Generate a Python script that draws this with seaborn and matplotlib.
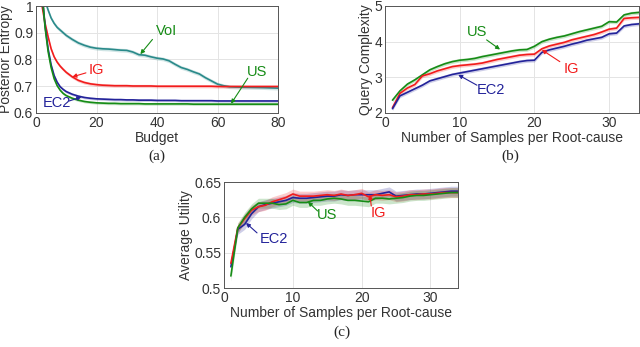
import numpy as np
import pandas as pd
import matplotlib
matplotlib.use("Agg")
import matplotlib.pyplot as plt
import seaborn as sns

# (a) posterior entropy vs budget
budget = [1, 2, 3, 4, 5, 6, 7, 8, 9, 10, 12, 14, 16, 18, 20, 22, 24, 26, 28, 30, 32, 34, 36,
          38, 40, 42, 44, 46, 48, 50, 52, 54, 56, 58, 60, 62, 64, 66, 70, 75, 80]
voi_a = [1.15, 1.08, 1.02, 0.985, 0.955, 0.935, 0.92, 0.91, 0.90, 0.89, 0.875, 0.862, 0.853,
         0.846, 0.842, 0.840, 0.839, 0.837, 0.835, 0.834, 0.828, 0.818, 0.816, 0.810, 0.805,
         0.802, 0.795, 0.782, 0.770, 0.763, 0.754, 0.746, 0.732, 0.720, 0.708, 0.702, 0.698,
         0.697, 0.696, 0.695, 0.693]
ig_a = [1.20, 1.00, 0.935, 0.885, 0.84, 0.81, 0.79, 0.775, 0.763, 0.752, 0.735, 0.722, 0.714,
        0.709, 0.706, 0.704, 0.703, 0.702, 0.702, 0.702, 0.701, 0.701, 0.701, 0.701, 0.700,
        0.700, 0.700, 0.700, 0.700, 0.700, 0.700, 0.700, 0.700, 0.700, 0.699, 0.699, 0.699,
        0.699, 0.699, 0.699, 0.699]
us_a = [1.30, 1.05, 0.92, 0.83, 0.77, 0.728, 0.702, 0.685, 0.673, 0.665, 0.655, 0.648, 0.643,
        0.640, 0.638, 0.637, 0.636, 0.636, 0.635, 0.635, 0.635, 0.635, 0.634, 0.634, 0.634,
        0.634, 0.634, 0.634, 0.634, 0.634, 0.633, 0.633, 0.633, 0.633, 0.633, 0.633, 0.633,
        0.633, 0.633, 0.633, 0.633]
ec2_a = [1.30, 1.05, 0.925, 0.84, 0.78, 0.74, 0.715, 0.698, 0.688, 0.68, 0.67, 0.663, 0.658,
         0.655, 0.653, 0.652, 0.651, 0.650, 0.650, 0.649, 0.649, 0.648, 0.648, 0.648, 0.647,
         0.647, 0.647, 0.647, 0.646, 0.646, 0.646, 0.646, 0.646, 0.646, 0.645, 0.645, 0.645,
         0.645, 0.645, 0.645, 0.645]

# (b) query complexity and (c) average utility vs samples per root-cause
samples = list(range(1, 35))
us_b = [2.36, 2.62, 2.81, 2.93, 3.07, 3.21, 3.30, 3.38, 3.44, 3.48, 3.50, 3.53, 3.58, 3.62,
        3.66, 3.70, 3.74, 3.77, 3.78, 3.87, 4.00, 4.07, 4.12, 4.16, 4.22, 4.28, 4.33, 4.38,
        4.43, 4.56, 4.55, 4.75, 4.80, 4.82]
ig_b = [2.15, 2.55, 2.70, 2.80, 3.04, 3.10, 3.18, 3.24, 3.30, 3.33, 3.35, 3.37, 3.40, 3.45,
        3.50, 3.54, 3.58, 3.62, 3.64, 3.65, 3.80, 3.88, 3.93, 3.98, 4.05, 4.10, 4.15, 4.20,
        4.27, 4.35, 4.38, 4.65, 4.67, 4.68]
ec2_b = [2.12, 2.48, 2.58, 2.68, 2.78, 2.90, 2.96, 3.02, 3.08, 3.12, 3.16, 3.20, 3.24, 3.28,
         3.32, 3.36, 3.40, 3.44, 3.47, 3.48, 3.70, 3.77, 3.82, 3.87, 3.93, 3.98, 4.04, 4.08,
         4.12, 4.22, 4.24, 4.44, 4.48, 4.50]

ec2_c = [0.530, 0.583, 0.590, 0.605, 0.615, 0.618, 0.620, 0.622, 0.624, 0.628, 0.627, 0.627,
         0.628, 0.629, 0.630, 0.630, 0.632, 0.631, 0.632, 0.632, 0.632, 0.632, 0.634, 0.636,
         0.630, 0.631, 0.632, 0.633, 0.633, 0.634, 0.635, 0.636, 0.637, 0.637]
ig_c = [0.535, 0.585, 0.598, 0.610, 0.615, 0.617, 0.622, 0.625, 0.628, 0.633, 0.630, 0.630,
        0.630, 0.631, 0.632, 0.631, 0.633, 0.631, 0.632, 0.634, 0.629, 0.632, 0.631, 0.632,
        0.629, 0.630, 0.632, 0.632, 0.633, 0.633, 0.634, 0.635, 0.635, 0.635]
us_c = [0.517, 0.585, 0.600, 0.612, 0.620, 0.620, 0.620, 0.618, 0.619, 0.624, 0.621, 0.621,
        0.624, 0.624, 0.626, 0.627, 0.626, 0.624, 0.624, 0.623, 0.622, 0.627, 0.627, 0.626,
        0.627, 0.628, 0.630, 0.631, 0.631, 0.632, 0.633, 0.634, 0.635, 0.635]

GREEN = "#168c16"
BLUE = "#23239a"
RED = "#f21c1c"
TEAL = "#2a8a8a"

sns.set_theme(style="whitegrid")
plt.rcParams["font.family"] = ["Liberation Sans", "DejaVu Sans"]

fig = plt.figure(figsize=(6.4, 3.47), dpi=100)
ax_a = fig.add_axes([36 / 640, 1 - 113 / 347, 242 / 640, 107 / 347])
ax_b = fig.add_axes([385 / 640, 1 - 113 / 347, 254 / 640, 107 / 347])
ax_c = fig.add_axes([224 / 640, 1 - 288 / 347, 234 / 640, 106 / 347])


def draw(ax, x, y, color, band):
    y = np.asarray(y)
    ax.fill_between(x, y - band, y + band, color=color, alpha=0.22, lw=0)
    sns.lineplot(x=x, y=y, ax=ax, color=color, lw=1.2)


def label(ax, text, color, pos, start, tip):
    ax.text(pos[0], pos[1], text, color=color, fontsize=10.5, ha="center", va="center")
    ax.annotate("", xy=tip, xytext=start,
                arrowprops=dict(arrowstyle="-|>", color=color, lw=0.8,
                                mutation_scale=6, shrinkA=0, shrinkB=0))


draw(ax_a, budget, voi_a, TEAL, 0.007)
draw(ax_a, budget, ig_a, RED, 0.006)
draw(ax_a, budget, ec2_a, BLUE, 0.005)
draw(ax_a, budget, us_a, GREEN, 0.005)
label(ax_a, "VoI", GREEN, (43, 0.905), (38.5, 0.875), (34.5, 0.82))
label(ax_a, "IG", RED, (20, 0.762), (16.5, 0.75), (12, 0.735))
label(ax_a, "EC2", BLUE, (7, 0.637), (11, 0.645), (15, 0.66))
label(ax_a, "US", GREEN, (73, 0.755), (70, 0.73), (64.5, 0.635))
ax_a.set_xlim(0, 80)
ax_a.set_ylim(0.6, 1)
ax_a.set_xticks([0, 20, 40, 60, 80])
ax_a.set_yticks([0.6, 0.7, 0.8, 0.9, 1.0])
ax_a.set_yticklabels(["0.6", "0.7", "0.8", "0.9", "1"])
ax_a.set_xlabel("Budget", labelpad=1)
ax_a.set_ylabel("Posterior Entropy", labelpad=1)

draw(ax_b, samples, us_b, GREEN, 0.05)
draw(ax_b, samples, ig_b, RED, 0.05)
draw(ax_b, samples, ec2_b, BLUE, 0.05)
label(ax_b, "US", GREEN, (12.3, 4.27), (13.6, 4.05), (15.4, 3.78))
label(ax_b, "IG", RED, (25, 3.24), (23.4, 3.44), (21, 3.77))
label(ax_b, "EC2", BLUE, (14.2, 2.64), (12.3, 2.78), (9.8, 3.07))
ax_b.set_xlim(0, 34)
ax_b.set_ylim(2, 5)
ax_b.set_xticks([0, 10, 20, 30])
ax_b.set_yticks([2, 3, 4, 5])
ax_b.set_xlabel("Number of Samples per Root-cause", labelpad=1)
ax_b.set_ylabel("Query Complexity", labelpad=1)

draw(ax_c, samples, ec2_c, BLUE, 0.007)
draw(ax_c, samples, ig_c, RED, 0.007)
draw(ax_c, samples, us_c, GREEN, 0.007)
label(ax_c, "US", GREEN, (15, 0.603), (13.6, 0.609), (12.2, 0.622))
label(ax_c, "IG", RED, (22.4, 0.606), (21.4, 0.616), (21.2, 0.632))
label(ax_c, "EC2", BLUE, (7.2, 0.570), (4.8, 0.578), (3.2, 0.592))
ax_c.set_xlim(0, 34)
ax_c.set_ylim(0.5, 0.65)
ax_c.set_xticks([0, 10, 20, 30])
ax_c.set_yticks([0.5, 0.55, 0.6, 0.65])
ax_c.set_yticklabels(["0.5", "0.55", "0.6", "0.65"])
ax_c.set_xlabel("Number of Samples per Root-cause", labelpad=1)
ax_c.set_ylabel("Average Utility", labelpad=1)

for ax in (ax_a, ax_b, ax_c):
    ax.set_facecolor("white")
    ax.grid(True, color="#e4e4e4", lw=0.7)
    for s in ax.spines.values():
        s.set_visible(True)
        s.set_color("#555555")
        s.set_linewidth(0.7)
    ax.tick_params(axis="both", labelsize=10, colors="#333333", pad=2,
                   direction="in", length=3, width=0.6)
    ax.xaxis.label.set_size(10)
    ax.yaxis.label.set_size(10)
    ax.xaxis.label.set_color("#333333")
    ax.yaxis.label.set_color("#333333")

for txt, x, y in [("(a)", 157, 156), ("(b)", 510, 156), ("(c)", 342, 332)]:
    fig.text(x / 640, 1 - y / 347, txt, ha="center", va="center",
             family=["Liberation Serif", "DejaVu Serif"], fontsize=11)

fig.savefig("out.png", dpi=100)
